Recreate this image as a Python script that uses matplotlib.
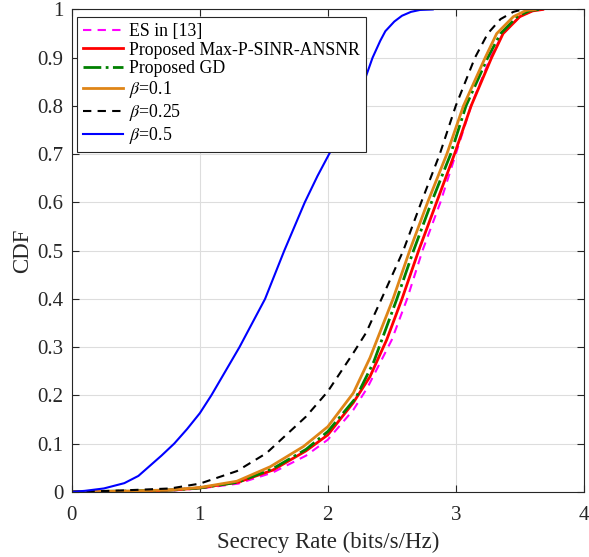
import numpy as np
import matplotlib
matplotlib.use('Agg')
import matplotlib.pyplot as plt

plt.rcParams['font.family'] = ['Liberation Serif', 'DejaVu Serif']
plt.rcParams['mathtext.fontset'] = 'stix'

# ES in [13]
es_x = [0, 0.5, 0.8, 1.0, 1.3, 1.57, 1.83, 2.0, 2.2, 2.31, 2.5, 2.62, 2.74, 2.88, 3.0, 3.12, 3.27, 3.37, 3.5, 3.6, 3.68]
es_y = [0, 0.001, 0.003, 0.007, 0.017, 0.04, 0.075, 0.108, 0.17, 0.216, 0.315, 0.4, 0.5, 0.6, 0.7, 0.8, 0.9, 0.95, 0.985, 0.997, 1.0]

# Proposed Max-P-SINR-ANSNR
mp_x = [0, 0.5, 0.8, 1.0, 1.3, 1.57, 1.83, 2.0, 2.2, 2.33, 2.46, 2.58, 2.71, 2.85, 2.99, 3.12, 3.28, 3.37, 3.5, 3.6, 3.68]
mp_y = [0, 0.001, 0.004, 0.008, 0.02, 0.045, 0.085, 0.118, 0.185, 0.239, 0.315, 0.4, 0.5, 0.6, 0.7, 0.8, 0.9, 0.95, 0.985, 0.997, 1.0]

# Proposed GD
gd_x = [0, 0.5, 0.8, 1.0, 1.3, 1.57, 1.83, 2.0, 2.22, 2.36, 2.54, 2.67, 2.81, 2.96, 3.08, 3.25, 3.35, 3.48, 3.58, 3.65]
gd_y = [0, 0.002, 0.004, 0.008, 0.02, 0.048, 0.088, 0.125, 0.195, 0.27, 0.4, 0.5, 0.6, 0.7, 0.8, 0.9, 0.95, 0.985, 0.998, 1.0]

# beta = 0.1
b1_x = [0, 0.5, 0.77, 1.0, 1.29, 1.55, 1.81, 2.0, 2.2, 2.33, 2.51, 2.64, 2.78, 2.93, 3.06, 3.23, 3.32, 3.45, 3.55, 3.62]
b1_y = [0, 0.002, 0.004, 0.009, 0.022, 0.052, 0.094, 0.135, 0.205, 0.278, 0.4, 0.5, 0.6, 0.7, 0.8, 0.9, 0.95, 0.985, 0.998, 1.0]

# beta = 0.25
b2_x = [0, 0.3, 0.5, 0.77, 1.0, 1.29, 1.52, 1.83, 2.0, 2.2, 2.3, 2.42, 2.59, 2.73, 2.875, 3.0, 3.15, 3.25, 3.35, 3.45, 3.52]
b2_y = [0, 0.002, 0.004, 0.007, 0.017, 0.043, 0.08, 0.156, 0.208, 0.288, 0.33, 0.4, 0.5, 0.6, 0.7, 0.8, 0.9, 0.95, 0.98, 0.995, 1.0]

# beta = 0.5
b3_x = [0, 0.1, 0.25, 0.41, 0.52, 0.61, 0.7, 0.8, 0.9, 1.0, 1.09, 1.2, 1.31, 1.41, 1.51, 1.66, 1.82, 1.92, 2.01, 2.11, 2.21,
        2.29, 2.35, 2.41, 2.45, 2.52, 2.58, 2.65, 2.72, 2.82]
b3_y = [0, 0.002, 0.007, 0.018, 0.033, 0.054, 0.075, 0.1, 0.13, 0.163, 0.2, 0.25, 0.3, 0.35, 0.4, 0.5, 0.6, 0.655, 0.7, 0.75, 0.8,
        0.855, 0.9, 0.935, 0.955, 0.975, 0.987, 0.995, 0.999, 1.0]

fig = plt.figure(figsize=(5.89, 5.57), dpi=100)
ax = fig.add_axes([0.122, 0.117, 0.869, 0.866])

ax.plot(es_x, es_y, '--', color='#FF00FF', lw=1.5, dashes=(4, 3), label='ES in [13]')
ax.plot(mp_x, mp_y, '-', color='#FF0000', lw=2, label='Proposed Max-P-SINR-ANSNR')
ax.plot(gd_x, gd_y, '-.', color='#008000', lw=2, label='Proposed GD')
ax.plot(b1_x, b1_y, '-', color='#DF8517', lw=2, label=r'$\beta$=0.1')
ax.plot(b2_x, b2_y, '--', color='k', lw=1.5, dashes=(4, 3), label=r'$\beta$=0.25')
ax.plot(b3_x, b3_y, '-', color='#0000FF', lw=1.5, label=r'$\beta$=0.5')

ax.set_xlim(0, 4)
ax.set_ylim(0, 1)
ax.set_xticks([0, 1, 2, 3, 4])
ax.set_yticks(np.arange(0, 1.01, 0.1))
ax.set_yticklabels(['0', '0.1', '0.2', '0.3', '0.4', '0.5', '0.6', '0.7', '0.8', '0.9', '1'])
ax.grid(True, color='#DDDDDD', lw=0.8)
ax.set_axisbelow(True)
ax.tick_params(direction='in', top=True, right=True, labelsize=15, colors='#262626', length=5, pad=6)
ax.tick_params(axis='x', pad=10)
for s in ax.spines.values():
    s.set_color('#262626')
    s.set_linewidth(0.8)

ax.set_xlabel('Secrecy Rate (bits/s/Hz)', fontsize=16.5, color='#262626', labelpad=5)
ax.set_ylabel('CDF', fontsize=16.5, color='#262626', labelpad=3)

leg = ax.legend(loc='upper left', bbox_to_anchor=(0.01, 0.985), borderaxespad=0,
                fontsize=12.8, fancybox=False, framealpha=1, edgecolor='#262626',
                handlelength=2.25, handletextpad=0.35, labelspacing=0.1, borderpad=0.35)
leg.get_frame().set_linewidth(0.8)

fig.savefig('out.png', dpi=100)
